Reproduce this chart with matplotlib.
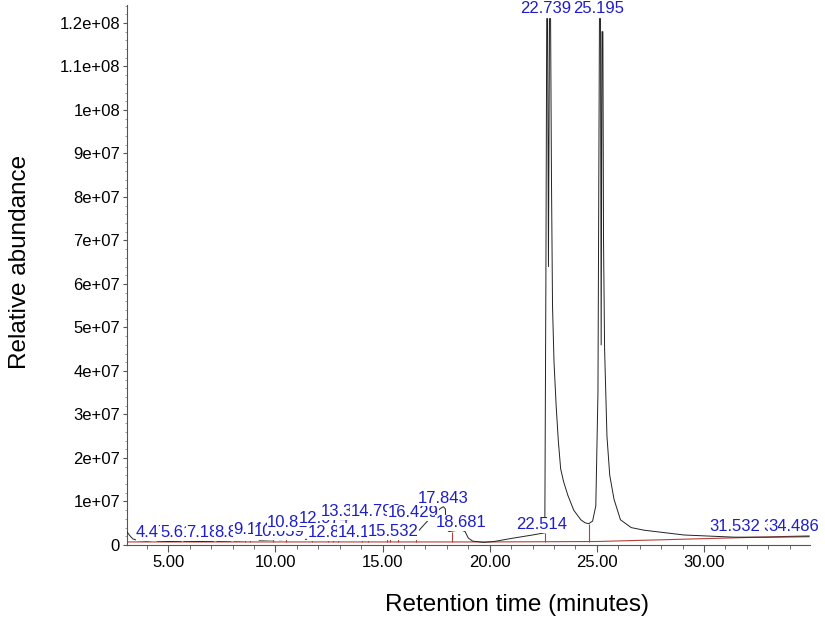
import numpy as np
import matplotlib
matplotlib.use("Agg")
import matplotlib.pyplot as plt
from matplotlib.ticker import MultipleLocator, AutoMinorLocator, FuncFormatter

plt.rcParams['font.family'] = ['Liberation Sans', 'DejaVu Sans']

# ---------------- data ----------------
time_min = [3.08, 3.2, 3.35, 3.6, 4.0, 4.4, 4.5, 5.0, 5.6, 5.65, 5.75, 6.5, 7.1, 7.18, 7.3,
            7.9, 8.0, 8.1, 8.55, 8.65, 8.75, 8.88, 9.0, 9.11, 9.25, 9.9, 10.06, 10.2, 10.5,
            10.6, 10.7, 10.81, 10.95, 11.07, 11.2, 11.72, 11.85, 12.0, 12.07, 12.2, 12.47,
            12.6, 12.7, 12.84, 12.95, 13.1, 13.3, 13.45, 14.06, 14.12, 14.3, 14.8, 14.95,
            15.23, 15.53, 15.74, 16.3, 16.43, 16.57, 16.62, 17.0, 17.4, 17.7, 17.84, 17.93,
            17.97, 18.1, 18.4, 18.68, 18.85, 19.0, 19.2, 19.7, 20.2, 21.0, 22.0, 22.57,
            22.62, 22.66, 22.70, 22.74, 22.79, 22.84, 22.88, 22.93, 23.0, 23.1, 23.2, 23.31,
            23.45, 23.64, 23.92, 24.25, 24.45, 24.62, 24.8, 24.95, 25.05, 25.12, 25.17,
            25.20, 25.24, 25.28, 25.31, 25.36, 25.47, 25.6, 25.8, 26.1, 26.6, 27.2, 29.06,
            31.4, 33.0, 34.9]
abundance = [3.0e6, 2.2e6, 1.4e6, 1.0e6, 0.9e6, 1.1e6, 0.9e6, 0.8e6, 0.85e6, 1.1e6, 0.85e6,
             0.8e6, 0.85e6, 1.1e6, 0.85e6, 0.9e6, 1.1e6, 0.9e6, 1.0e6, 1.5e6, 1.0e6, 1.6e6,
             1.1e6, 1.7e6, 1.1e6, 1.2e6, 1.8e6, 1.2e6, 1.3e6, 1.9e6, 1.3e6, 1.9e6, 1.3e6,
             1.7e6, 1.3e6, 1.3e6, 1.9e6, 1.4e6, 2.0e6, 1.4e6, 1.4e6, 2.0e6, 1.5e6, 2.1e6,
             1.5e6, 1.5e6, 2.3e6, 1.5e6, 1.6e6, 2.3e6, 1.6e6, 2.4e6, 1.7e6, 1.7e6, 2.4e6,
             1.7e6, 1.8e6, 2.3e6, 2.0e6, 2.9e6, 5.0e6, 7.0e6, 8.4e6, 8.8e6, 8.3e6, 3.6e6,
             3.1e6, 3.3e6, 3.4e6, 3.1e6, 1.6e6, 0.9e6, 0.6e6, 0.8e6, 1.5e6, 2.3e6, 2.8e6,
             6.0e7, 1.21e8, 1.21e8, 6.4e7, 1.21e8, 1.21e8, 8.5e7, 5.5e7, 4.2e7, 3.2e7, 2.4e7,
             1.75e7, 1.45e7, 1.15e7, 8.0e6, 5.8e6, 5.1e6, 4.9e6, 5.5e6, 9.0e6, 3.5e7, 1.21e8,
             1.21e8, 4.6e7, 1.18e8, 1.18e8, 7.0e7, 4.5e7, 2.5e7, 1.6e7, 1.05e7, 5.8e6, 4.0e6,
             3.4e6, 2.3e6, 1.8e6, 1.8e6, 1.9e6]

# integration baseline (red)
base_time = [3.08, 20.0, 25.0, 34.9]
base_value = [0.7e6, 0.7e6, 0.8e6, 2.1e6]

# integration markers (red verticals)
marker_time = [8.6, 8.8, 9.9, 10.5, 11.72, 12.47, 12.7, 12.94, 14.06, 14.34, 15.23, 15.37,
               15.74, 16.57, 18.22, 22.57, 24.62]
marker_top = [1.3e6, 1.3e6, 1.4e6, 1.5e6, 1.5e6, 1.6e6, 1.6e6, 1.7e6, 1.7e6, 1.8e6, 1.8e6,
              1.8e6, 1.9e6, 2.0e6, 2.9e6, 2.8e6, 4.9e6]

# peak labels: text, left x (min), y (abundance)
peak_labels = ["4.474", "5.617", "7.185", "8.883", "9.118", "10.059", "10.811", "12.074",
               "12.843", "13.314", "14.115", "14.798", "15.532", "16.429", "17.843",
               "18.681", "22.514", "22.739", "25.195", "31.532", "33.118", "34.486"]
label_x = [3.50, 4.62, 5.84, 7.15, 8.03, 8.97, 9.62, 11.07, 11.49, 12.10, 12.89, 13.50,
           14.30, 15.23, 16.63, 17.47, 21.21, 21.44, 23.87, 30.23, 32.75, 32.99]
label_y = [2.76e6, 2.76e6, 2.76e6, 2.76e6, 3.45e6, 3.0e6, 5.06e6, 6.2e6, 2.76e6, 7.6e6,
           2.76e6, 7.6e6, 3.0e6, 7.36e6, 1.08e7, 5.06e6, 4.6e6, 1.234e8, 1.234e8,
           4.14e6, 4.14e6, 4.14e6]

# ---------------- figure ----------------
fig = plt.figure(figsize=(8.25, 6.27), dpi=100)
ax = fig.add_axes([0.154, 0.1308, 0.828, 0.861])

ax.plot(base_time, base_value, color='#b5403a', lw=0.8, zorder=2)
ax.vlines(marker_time, np.interp(marker_time, base_time, base_value), marker_top,
          color='#b5403a', lw=0.8, zorder=2)
ax.plot(time_min, abundance, color='#222222', lw=0.7, zorder=3)

blue = '#1e1ec8'
for i, (s, x, y) in enumerate(zip(peak_labels, label_x, label_y)):
    ax.text(x, y, s, ha='left', va='center', color=blue, fontsize=12,
            bbox=dict(facecolor='white', edgecolor='none', pad=0.3),
            zorder=10 + i, clip_on=False)

ax.set_xlim(3.08, 34.95)
ax.set_ylim(0, 1.241e8)

for side in ('top', 'right'):
    ax.spines[side].set_visible(False)
for side in ('left', 'bottom'):
    ax.spines[side].set_color('#555555')
    ax.spines[side].set_linewidth(0.8)

ax.xaxis.set_major_locator(MultipleLocator(5))
ax.xaxis.set_minor_locator(MultipleLocator(1))
ax.xaxis.set_major_formatter(FuncFormatter(lambda v, p: '%.2f' % v))
ax.yaxis.set_major_locator(MultipleLocator(1e7))
ax.yaxis.set_minor_locator(AutoMinorLocator(5))
ax.yaxis.set_major_formatter(FuncFormatter(lambda v, p: '0' if v == 0 else '%g' % v))

ax.tick_params(axis='x', which='major', length=5, width=0.8, color='#555555',
               labelsize=12, pad=2)
ax.tick_params(axis='x', which='minor', length=3, width=0.6, color='#555555')
ax.tick_params(axis='y', which='major', length=3, width=0.8, color='#555555',
               labelsize=12, pad=2)
ax.tick_params(axis='y', which='minor', length=1.5, width=0.5, color='#777777')

fig.text(0.627, 0.035, 'Retention time (minutes)', ha='center', va='center', fontsize=17.5)
fig.text(0.024, 0.582, 'Relative abundance', ha='center', va='center', rotation=90,
         fontsize=17.5)

fig.savefig('out.png', dpi=100)
